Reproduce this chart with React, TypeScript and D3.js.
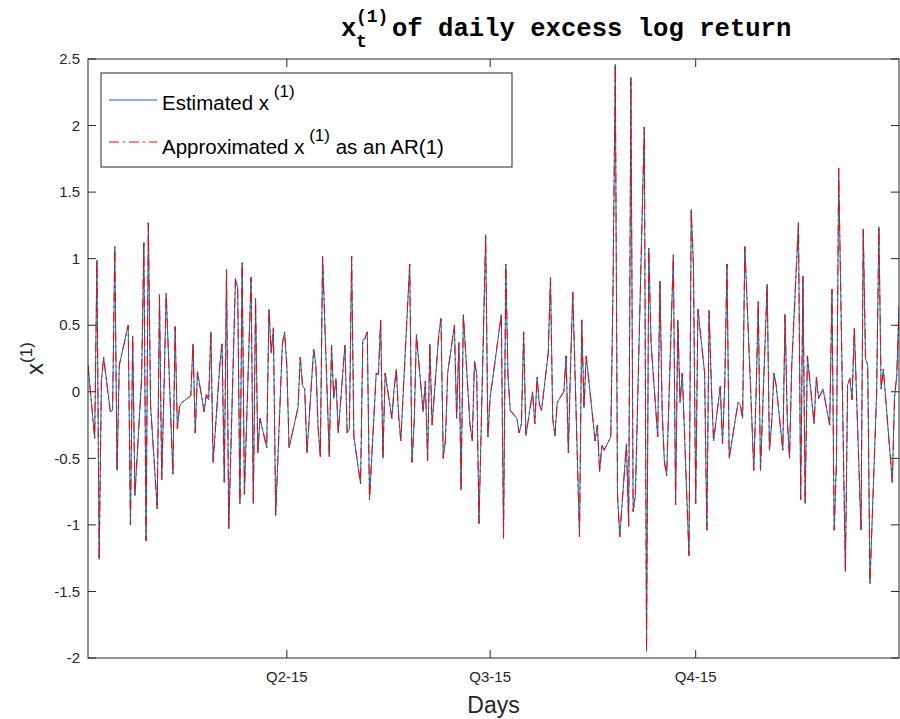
import React from 'react';
import * as d3 from 'd3';

// Daily values of the estimated factor x^(1) (2015 trading days)
const estimated: number[] = [
  0.2, -0.35, 0.99, -1.26, 0.08, 0.26, -0.15, -0.14, 1.09, -0.59, 0.2, 0.5, -1.0, 0.42, -0.78, 0.1, 1.12, -1.12, 1.27, -0.1, -0.88,
  0.73, -0.66, 0.0, 0.74, -0.62, 0.49, -0.28, -0.11, -0.08, -0.03, 0.36, -0.31, 0.15, -0.15, -0.02, -0.06, 0.45, -0.53, 0.2, 0.36, -0.68,
  0.92, -1.03, 0.85, 0.78, -0.84, 0.97, -0.77, 0.86, -0.84, 0.7, -0.46, -0.2, -0.42, 0.62, 0.29, 0.48, -0.93, 0.36, 0.45, 0.2, -0.42,
  -0.12, 0.26, 0.05, 0.02, -0.46, 0.32, 0.2, -0.27, -0.49, 1.02, -0.49, 0.35, -0.05, 0.1, -0.31, 0.35, -0.31, -0.28, 1.02, -0.34, -0.69,
  0.39, 0.4, 0.45, -0.81, 0.14, 0.13, 0.54, -0.5, 0.14, -0.2, 0.02, 0.17, -0.17, -0.37, 0.96, -0.53, -0.23, 0.43, -0.15, 0.08, -0.52,
  0.36, -0.25, 0.43, 0.55, -0.5, -0.36, 0.14, 0.5, -0.2, 0.37, -0.74, 0.58, -0.25, -0.37, 0.23, 0.13, -0.99, 1.18, -0.34, -0.04, 0.08,
  0.58, -1.1, 0.96, 0.11, -0.14, -0.2, -0.31, -0.24, 0.45, -0.33, 0.0, -0.24, 0.11, -0.09, -0.14, 0.29, 0.86, -0.2, -0.33, -0.08, 0.0,
  0.27, -0.46, 0.2, 0.75, -1.09, 0.54, -0.12, 0.27, 0.11, -0.37, -0.25, -0.6, -0.4, -0.44, -0.34, 0.78, 2.46, -0.77, -1.09, -0.39, -1.01,
  2.36, -0.9, -0.78, 1.99, -1.95, 1.08, 0.37, -0.34, 0.83, -0.15, -0.53, -0.63, 1.03, -0.85, 0.54, -0.08, 0.14, -1.23, 1.37, 0.95, -0.84,
  0.62, 0.14, -1.04, 0.61, 0.05, -0.37, 0.04, -0.39, 0.05, 0.96, -0.5, -0.18, -0.08, -0.1, -0.2, 1.09, -0.15, -0.59, -0.04, 0.68, -0.59,
  0.81, -0.44, -0.24, 0.14, 0.05, -0.44, 0.58, -0.21, -0.5, 0.2, 1.27, -0.81, 0.87, -0.84, 0.27, -0.24, 0.11, -0.05, 0.02, -0.25, 0.77,
  -1.04, -0.53, 1.68, -1.35, 0.05, 0.1, -0.06, 0.48, -1.04, 1.22, 0.25, 0.2, -1.44, 0.0, 1.24, 0.02, 0.17, -0.68, -0.04, 0.12, 0.64,
];

// AR(1) approximation: visually identical to the estimate at this scale
const approximated: number[] = estimated.slice();

const yTicks: number[] = [-2, -1.5, -1, -0.5, 0, 0.5, 1, 1.5, 2, 2.5];
const xTickDates: string[] = ['2015-04-01', '2015-07-01', '2015-10-01'];
const xTickLabels: string[] = ['Q2-15', 'Q3-15', 'Q4-15'];
const marketHolidays: string[] = [
  '2015-01-01', '2015-01-19', '2015-02-16', '2015-04-03', '2015-05-25',
  '2015-07-03', '2015-09-07', '2015-11-26', '2015-12-25',
];

const parse = (s: string) => {
  const [y, m, d] = s.split('-').map(Number);
  return new Date(y, m - 1, d);
};
const fmt = d3.timeFormat('%Y-%m-%d');

// trading days of 2015
const tradingDays: Date[] = d3
  .timeDays(new Date(2015, 0, 1), new Date(2016, 0, 1))
  .filter((d) => d.getDay() !== 0 && d.getDay() !== 6 && !marketHolidays.includes(fmt(d)));

const W = 900;
const H = 719;
const L = 88;
const R = 899;
const T = 59;
const B = 658;
const AX = '#262626';
const SANS = '"Liberation Sans", Arial, Helvetica, sans-serif';
const MONO = '"Liberation Mono", "Courier New", Courier, monospace';

export default function App() {
  const n = Math.min(estimated.length, tradingDays.length);
  const days = tradingDays.slice(0, n);
  const x = d3.scaleTime().domain([days[0], days[n - 1]]).range([L, R]);
  const y = d3.scaleLinear().domain([-2, 2.5]).range([B, T]);

  const line = d3
    .line<number>()
    .x((_, i) => x(days[i]))
    .y((v) => y(v));

  const estPath = line(estimated.slice(0, n)) || '';
  const apxPath = line(approximated.slice(0, n)) || '';

  const blue = '#0072BD';
  const red = '#FF0000';
  const dash = '10,4,2,4';

  return (
    <svg
      width={W}
      height={H}
      style={{ position: 'absolute', left: 0, top: 0, background: '#fff' }}
    >
      <rect x={0} y={0} width={W} height={H} fill="#fff" />

      {/* data */}
      <defs>
        <clipPath id="plotclip">
          <rect x={L} y={T} width={R - L} height={B - T} />
        </clipPath>
      </defs>
      <g clipPath="url(#plotclip)">
        <path d={estPath} fill="none" stroke={blue} strokeWidth={1} />
        <path d={apxPath} fill="none" stroke={red} strokeWidth={1} strokeDasharray={dash} />
      </g>

      {/* axes box */}
      <rect x={L} y={T} width={R - L} height={B - T} fill="none" stroke={AX} strokeWidth={1} />

      {/* y ticks */}
      {yTicks.map((t) => (
        <g key={'y' + t}>
          <line x1={L} x2={L + 8} y1={y(t)} y2={y(t)} stroke={AX} strokeWidth={1} />
          <line x1={R} x2={R - 8} y1={y(t)} y2={y(t)} stroke={AX} strokeWidth={1} />
          <text
            x={L - 8}
            y={y(t)}
            dy="0.35em"
            textAnchor="end"
            fontFamily={SANS}
            fontSize={15}
            fill={AX}
          >
            {String(t)}
          </text>
        </g>
      ))}

      {/* x ticks */}
      {xTickDates.map((s, i) => {
        const px = x(parse(s));
        return (
          <g key={'x' + s}>
            <line x1={px} x2={px} y1={B} y2={B - 8} stroke={AX} strokeWidth={1} />
            <line x1={px} x2={px} y1={T} y2={T + 8} stroke={AX} strokeWidth={1} />
            <text
              x={px}
              y={682}
              textAnchor="middle"
              fontFamily={SANS}
              fontSize={15}
              fill={AX}
            >
              {xTickLabels[i]}
            </text>
          </g>
        );
      })}

      {/* axis labels */}
      <text x={(L + R) / 2} y={713} textAnchor="middle" fontFamily={SANS} fontSize={23} fill={AX}>
        Days
      </text>
      <text
        transform={`translate(43, ${(T + B) / 2}) rotate(-90)`}
        textAnchor="middle"
        fontFamily={SANS}
        fontSize={24}
        fill={AX}
      >
        x
        <tspan dy={-11} fontSize={17}>
          (1)
        </tspan>
      </text>

      {/* title */}
      <text x={341} y={36} fontFamily={MONO} fontWeight="bold" fontSize={25.6} fill="#000">
        x
      </text>
      <text x={356} y={22} fontFamily={MONO} fontWeight="bold" fontSize={18} fill="#000">
        (1)
      </text>
      <text x={356} y={47} fontFamily={MONO} fontWeight="bold" fontSize={18} fill="#000">
        t
      </text>
      <text x={392} y={36} fontFamily={MONO} fontWeight="bold" fontSize={25.6} fill="#000">
        of daily excess log return
      </text>

      {/* legend */}
      <g>
        <rect x={101} y={73} width={411} height={94} fill="#fff" stroke={AX} strokeWidth={1} />
        <line x1={109} x2={157} y1={100} y2={100} stroke={blue} strokeWidth={1} />
        <line x1={109} x2={157} y1={142} y2={142} stroke={red} strokeWidth={1} strokeDasharray={dash} />
        <text x={162} y={110} fontFamily={SANS} fontSize={20.5} fill="#000">
          Estimated x
          <tspan dy={-13} fontSize={17}>
            {' (1)'}
          </tspan>
        </text>
        <text x={162} y={154} fontFamily={SANS} fontSize={20.5} fill="#000">
          Approximated x
          <tspan dy={-13} fontSize={17}>
            {' (1)'}
          </tspan>
          <tspan dy={13}>{' as an AR(1)'}</tspan>
        </text>
      </g>
    </svg>
  );
}
